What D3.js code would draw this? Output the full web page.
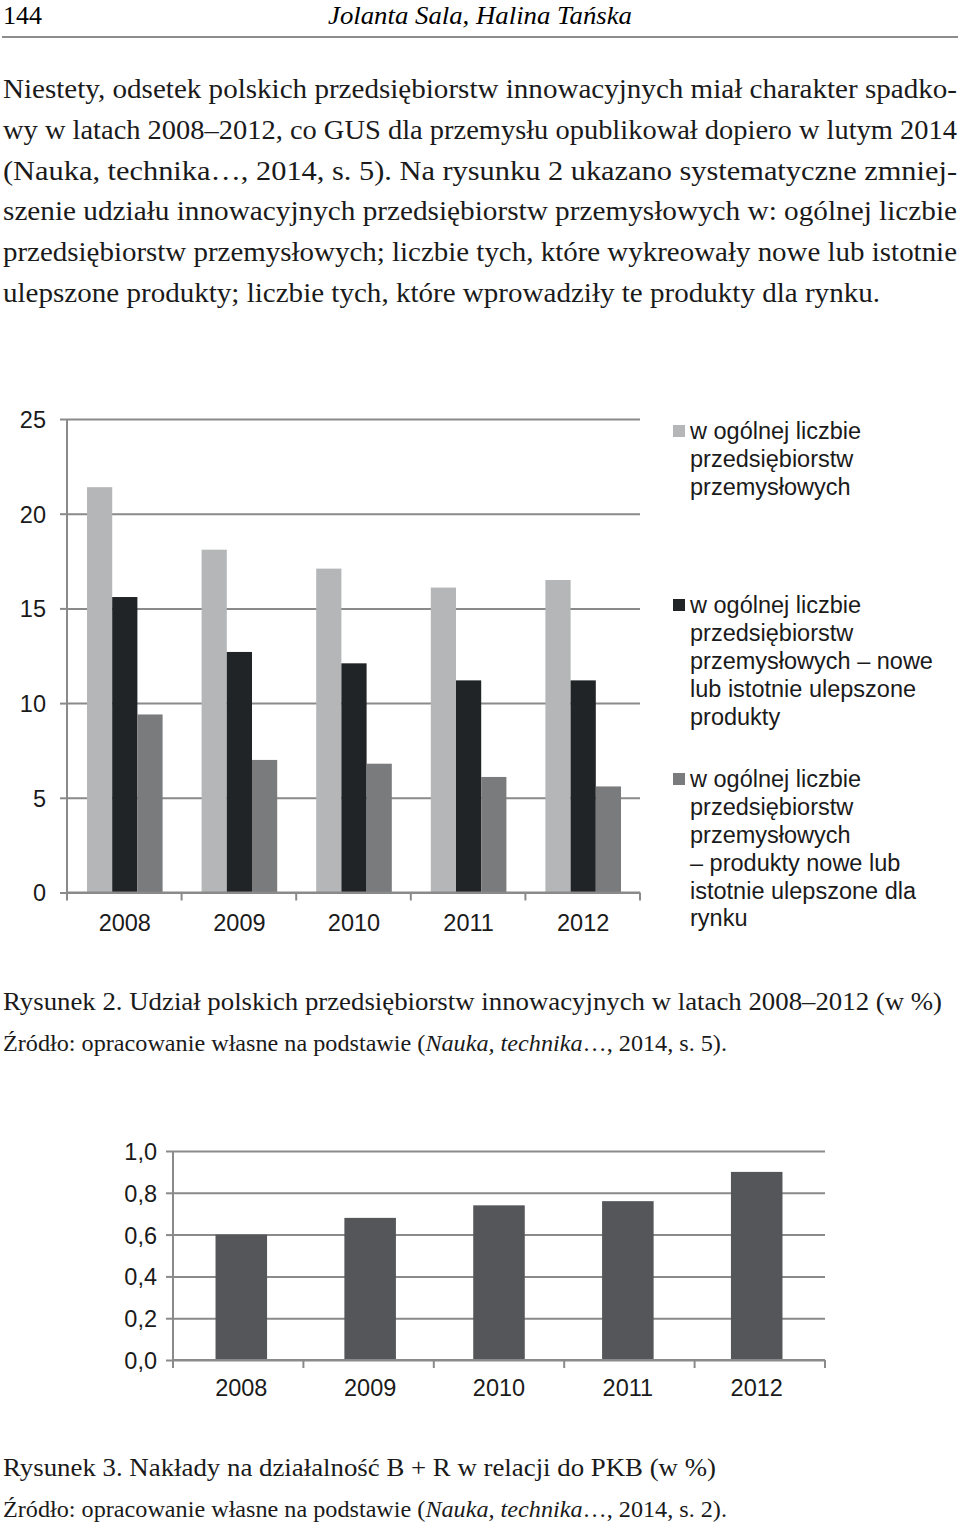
<!DOCTYPE html>
<html>
<head>
<meta charset="utf-8">
<script src="https://cdn.jsdelivr.net/npm/d3@7"></script>
<style>
  body { margin: 0; background: #fff; }
  svg { display: block; }
</style>
</head>
<body>
<div id="page"></div>
<script>
// data
const years = ["2008", "2009", "2010", "2011", "2012"];
const seriesNames = [
  ["w ogólnej liczbie", "przedsiębiorstw", "przemysłowych"],
  ["w ogólnej liczbie", "przedsiębiorstw", "przemysłowych – nowe", "lub istotnie ulepszone", "produkty"],
  ["w ogólnej liczbie", "przedsiębiorstw", "przemysłowych", "– produkty nowe lub", "istotnie ulepszone dla", "rynku"]
];
const allIndustry = [21.4, 18.1, 17.1, 16.1, 16.5];
const newProducts = [15.6, 12.7, 12.1, 11.2, 11.2];
const newForMarket = [9.4, 7.0, 6.8, 6.1, 5.6];
const yTicks1 = [0, 5, 10, 15, 20, 25];

const rdShare = [0.60, 0.68, 0.74, 0.76, 0.90];
const yTicks2 = [0, 0.2, 0.4, 0.6, 0.8, 1.0];

const paragraph = [
  "Niestety, odsetek polskich przedsiębiorstw innowacyjnych miał charakter spadko-",
  "wy w latach 2008–2012, co GUS dla przemysłu opublikował dopiero w lutym 2014",
  "(Nauka, technika…, 2014, s. 5). Na rysunku 2 ukazano systematyczne zmniej-",
  "szenie udziału innowacyjnych przedsiębiorstw przemysłowych w: ogólnej liczbie",
  "przedsiębiorstw przemysłowych; liczbie tych, które wykreowały nowe lub istotnie",
  "ulepszone produkty; liczbie tych, które wprowadziły te produkty dla rynku."
];

const W = 960, H = 1525;
const svg = d3.select("#page").append("svg")
  .attr("width", W).attr("height", H);

const serif = "'Liberation Serif', 'Times New Roman', serif";
const sans = "'Liberation Sans', Arial, sans-serif";

// page header
svg.append("text").attr("x", 3).attr("y", 24)
  .attr("font-family", serif).attr("font-size", 26)
  .attr("textLength", 39).attr("lengthAdjust", "spacingAndGlyphs")
  .text("144");
svg.append("text").attr("x", 328).attr("y", 24)
  .attr("font-family", serif).attr("font-size", 26).attr("font-style", "italic")
  .attr("textLength", 304).attr("lengthAdjust", "spacingAndGlyphs")
  .text("Jolanta Sala, Halina Tańska");
svg.append("line").attr("x1", 2).attr("x2", 958).attr("y1", 37).attr("y2", 37)
  .attr("stroke", "#8c8c8c").attr("stroke-width", 2);

// paragraph, justified line by line
const lineEnds = [957, 957, 957, 957, 957, 880];
paragraph.forEach((t, i) => {
  svg.append("text").attr("x", 3).attr("y", 98 + i * 40.8)
    .attr("font-family", serif).attr("font-size", 27).attr("fill", "#1a1a1a")
    .attr("textLength", lineEnds[i] - 3).attr("lengthAdjust", "spacingAndGlyphs")
    .text(t);
});

// ---------- Figure 2 ----------
const f1 = { left: 67, right: 640, top: 419, bottom: 892.5 };
const x1 = d3.scaleBand().domain(years).range([f1.left, f1.right]).paddingInner(0).paddingOuter(0);
const y1 = d3.scaleLinear().domain([0, 25]).range([f1.bottom, f1.top]);
const sub1 = d3.scaleBand().domain([0, 1, 2]).range([20, x1.bandwidth() - 19]);
const colors1 = ["#b4b6b7", "#212427", "#7a7b7d"];
const grid = "#8a8a8a";

const g1 = svg.append("g");
g1.append("g")
  .attr("transform", `translate(${f1.left},0)`)
  .call(d3.axisLeft(y1).tickValues(yTicks1).tickSize(7).tickFormat(d3.format("d")))
  .call(g => g.select(".domain").remove())
  .call(g => g.selectAll(".tick line").clone()
    .attr("x2", f1.right - f1.left))
  .call(g => g.selectAll("line").attr("stroke", grid).attr("stroke-width", 2))
  .call(g => g.selectAll("text").attr("x", -21).attr("dy", "0.36em")
    .attr("font-family", sans).attr("font-size", 23.5).attr("fill", "#1a1a1a"));

const series1 = [allIndustry, newProducts, newForMarket];
series1.forEach((vals, s) => {
  g1.selectAll(null).data(vals).enter().append("rect")
    .attr("x", (d, i) => x1(years[i]) + sub1(s))
    .attr("width", sub1.bandwidth())
    .attr("y", d => y1(d))
    .attr("height", d => y1(0) - y1(d))
    .attr("fill", colors1[s]);
});

// y axis line
g1.append("line").attr("x1", f1.left).attr("x2", f1.left)
  .attr("y1", f1.top).attr("y2", f1.bottom)
  .attr("stroke", grid).attr("stroke-width", 2);

// x axis with boundary ticks
const xb1 = g1.append("g").attr("transform", `translate(0,${f1.bottom})`);
xb1.append("line").attr("x1", f1.left).attr("x2", f1.right)
  .attr("stroke", grid).attr("stroke-width", 2);
xb1.selectAll(".bt").data(d3.range(years.length + 1)).enter().append("line")
  .attr("x1", i => f1.left + i * x1.step()).attr("x2", i => f1.left + i * x1.step())
  .attr("y1", 0).attr("y2", 8).attr("stroke", grid).attr("stroke-width", 2);
xb1.selectAll(".lab").data(years).enter().append("text")
  .attr("x", d => x1(d) + sub1(0) + (sub1(2) + sub1.bandwidth() - sub1(0)) / 2)
  .attr("y", 38).attr("text-anchor", "middle")
  .attr("font-family", sans).attr("font-size", 23.5).attr("fill", "#1a1a1a")
  .text(d => d);

// legend
const legendTops = [431, 605, 779];
seriesNames.forEach((lines, s) => {
  const lg = svg.append("g").attr("transform", `translate(673,${legendTops[s]})`);
  lg.append("rect").attr("x", 0).attr("y", -6).attr("width", 12).attr("height", 12)
    .attr("fill", colors1[s]);
  lines.forEach((t, k) => {
    lg.append("text").attr("x", 17).attr("y", k * 27.8).attr("dy", "0.36em")
      .attr("font-family", sans).attr("font-size", 23.5).attr("fill", "#1a1a1a")
      .text(t);
  });
});

// captions
function caption(y, size, parts, width) {
  const t = svg.append("text").attr("x", 3).attr("y", y)
    .attr("font-family", serif).attr("font-size", size).attr("fill", "#1a1a1a")
    .attr("textLength", width).attr("lengthAdjust", "spacingAndGlyphs");
  parts.forEach(p => t.append("tspan").attr("font-style", p[1] ? "italic" : "normal").text(p[0]));
}
caption(1010, 26, [["Rysunek 2. Udział polskich przedsiębiorstw innowacyjnych w latach 2008–2012 (w %)", false]], 939);
caption(1051, 23, [["Źródło: opracowanie własne na podstawie (", false], ["Nauka, technika", true], ["…, 2014, s. 5).", false]], 724);

// ---------- Figure 3 ----------
const f2 = { left: 173, right: 825, top: 1151, bottom: 1360 };
const x2 = d3.scaleBand().domain(years).range([f2.left, f2.right]).paddingInner(0.6).paddingOuter(0.33);
const y2 = d3.scaleLinear().domain([0, 1]).range([f2.bottom, f2.top]);
const comma = d => d3.format(".1f")(d).replace(".", ",");

const g2 = svg.append("g");
g2.append("g")
  .attr("transform", `translate(${f2.left},0)`)
  .call(d3.axisLeft(y2).tickValues(yTicks2).tickSize(7).tickFormat(comma))
  .call(g => g.select(".domain").remove())
  .call(g => g.selectAll(".tick line").clone()
    .attr("x2", f2.right - f2.left))
  .call(g => g.selectAll("line").attr("stroke", grid).attr("stroke-width", 2))
  .call(g => g.selectAll("text").attr("x", -16).attr("dy", "0.36em")
    .attr("font-family", sans).attr("font-size", 23.5).attr("fill", "#1a1a1a"));

g2.selectAll(".bar").data(rdShare).enter().append("rect")
  .attr("class", "bar")
  .attr("x", (d, i) => x2(years[i]))
  .attr("width", x2.bandwidth())
  .attr("y", d => y2(d))
  .attr("height", d => y2(0) - y2(d))
  .attr("fill", "#545659");

g2.append("line").attr("x1", f2.left).attr("x2", f2.left)
  .attr("y1", f2.top).attr("y2", f2.bottom)
  .attr("stroke", grid).attr("stroke-width", 2);

const step2 = (f2.right - f2.left) / years.length;
const xb2 = g2.append("g").attr("transform", `translate(0,${f2.bottom})`);
xb2.append("line").attr("x1", f2.left).attr("x2", f2.right)
  .attr("stroke", grid).attr("stroke-width", 2);
xb2.selectAll(".bt").data(d3.range(years.length + 1)).enter().append("line")
  .attr("x1", i => f2.left + i * step2).attr("x2", i => f2.left + i * step2)
  .attr("y1", 0).attr("y2", 8).attr("stroke", grid).attr("stroke-width", 2);
xb2.selectAll(".lab").data(years).enter().append("text")
  .attr("x", d => x2(d) + x2.bandwidth() / 2)
  .attr("y", 36).attr("text-anchor", "middle")
  .attr("font-family", sans).attr("font-size", 23.5).attr("fill", "#1a1a1a")
  .text(d => d);

caption(1476, 26, [["Rysunek 3. Nakłady na działalność B + R w relacji do PKB (w %)", false]], 713);
caption(1517, 23, [["Źródło: opracowanie własne na podstawie (", false], ["Nauka, technika", true], ["…, 2014, s. 2).", false]], 724);
</script>
</body>
</html>
